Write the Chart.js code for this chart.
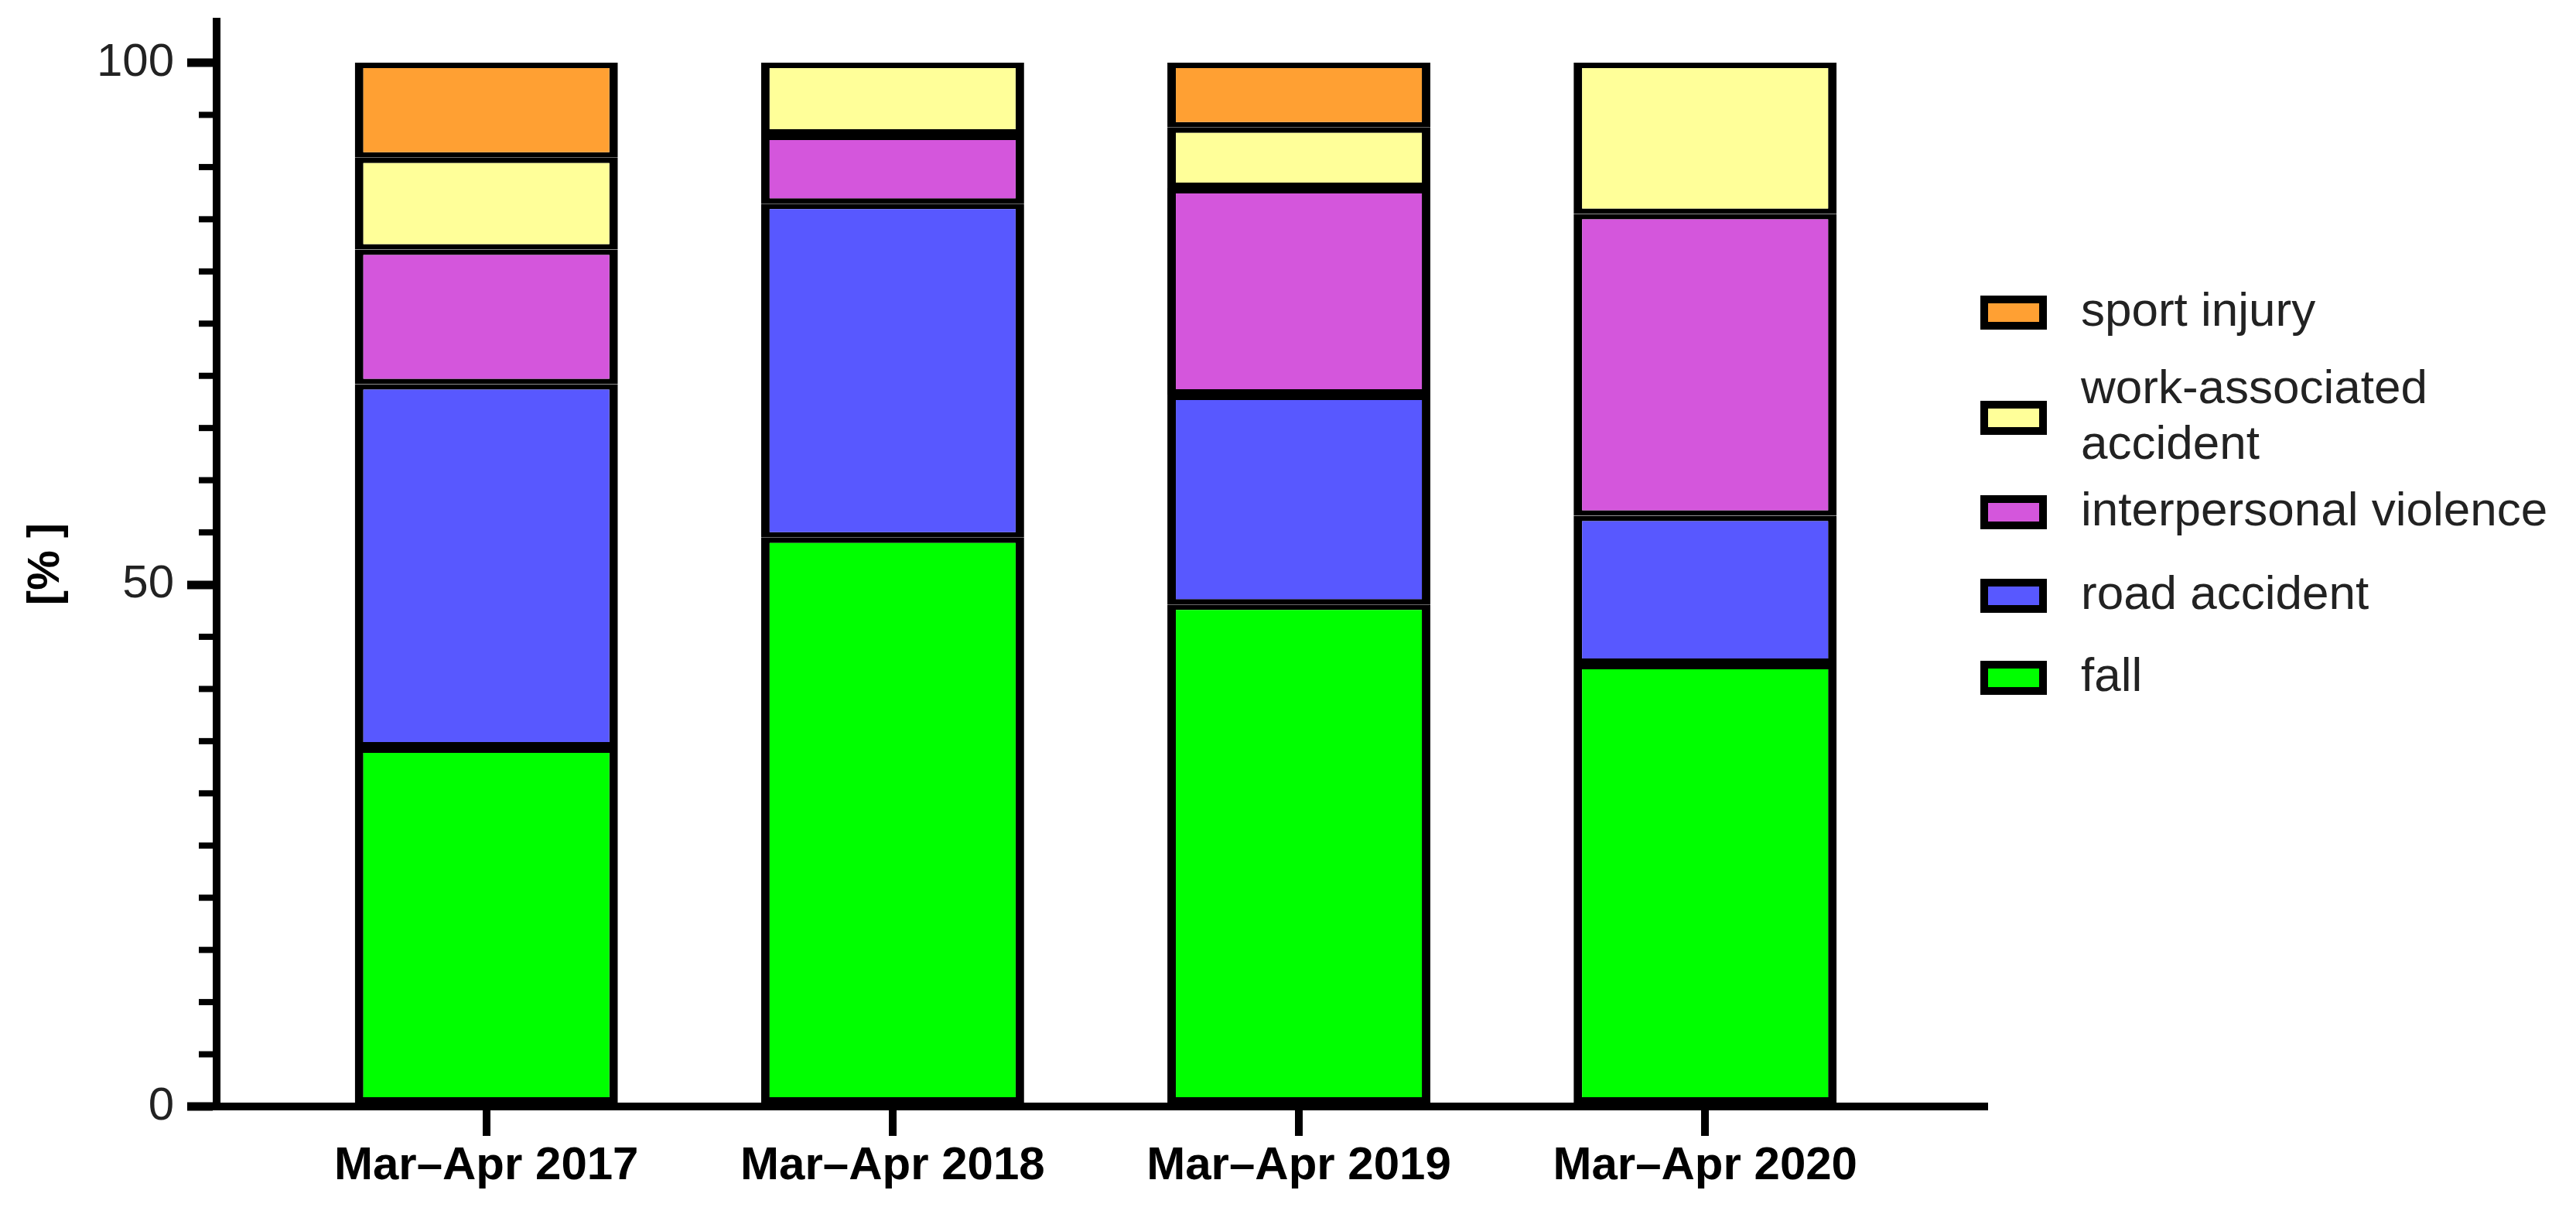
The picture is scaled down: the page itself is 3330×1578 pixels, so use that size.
<!DOCTYPE html>
<html>
<head>
<meta charset="utf-8">
<title>Injury causes, Mar–Apr 2017–2020</title>
<script src="https://cdn.jsdelivr.net/npm/chart.js@4.4.1/dist/chart.umd.min.js"></script>
<style>
  html, body { margin: 0; padding: 0; background: #fff; }
  #wrap { width: 3330px; height: 1578px; }
</style>
</head>
<body>
<div id="wrap"><canvas id="chart" width="3330" height="1578"></canvas></div>
<script>
'use strict';

// --- data (% of cases per period) ---
const categories = ['Mar–Apr 2017', 'Mar–Apr 2018', 'Mar–Apr 2019', 'Mar–Apr 2020'];
const fall      = [34.4, 54.5, 48.1, 42.4];
const road      = [34.8, 32.0, 20.1, 14.2];
const violence  = [12.9,  6.6, 19.8, 28.9];
const work      = [ 8.8,  6.9,  5.8, 14.5];
const sport     = [ 9.1,  0.0,  6.2,  0.0];

const seriesNames  = ['fall', 'road accident', 'interpersonal violence', 'work-associated accident', 'sport injury'];
const seriesValues = [fall, road, violence, work, sport];
const seriesColors = ['#00ff00', '#5858ff', '#d456dc', '#ffff99', '#ffa033'];

const yTickStep = 5;
const yMajorStep = 50;

const FONT = '"Liberation Sans", Arial, Helvetica, sans-serif';
Chart.defaults.font.family = FONT;

// minor tick marks on the y axis (short every 5, long every 50)
const minorTicks = {
  id: 'minorTicks',
  afterDraw(chart) {
    const y = chart.scales.y;
    const ctx = chart.ctx;
    ctx.save();
    ctx.strokeStyle = '#000';
    ctx.lineWidth = 8;
    for (let v = yTickStep; v < 100; v += yTickStep) {
      if (v % yMajorStep === 0) continue;
      const py = y.getPixelForValue(v);
      ctx.beginPath();
      ctx.moveTo(y.right - 4, py);
      ctx.lineTo(y.right - 23, py);
      ctx.stroke();
    }
    ctx.restore();
  },
};

// legend on the right, top item = last stacked series
const sideLegend = {
  id: 'sideLegend',
  afterDraw(chart) {
    const ctx = chart.ctx;
    const centers = [404, 540, 662, 770, 876];
    const swX = 2560, swW = 86, swH = 44, inset = 10;
    const textX = 2690, lineH = 72, maxW = 640;
    ctx.save();
    ctx.font = '62px ' + FONT;
    ctx.textBaseline = 'middle';
    ctx.textAlign = 'left';
    const items = chart.data.datasets.slice().reverse();
    items.forEach((ds, i) => {
      const cy = centers[i];
      ctx.fillStyle = '#000';
      ctx.fillRect(swX, cy - swH / 2, swW, swH);
      ctx.fillStyle = ds.backgroundColor;
      ctx.fillRect(swX + inset, cy - swH / 2 + inset, swW - 2 * inset, swH - 2 * inset);

      // simple word wrap
      const words = ds.label.split(' ');
      const lines = [];
      let cur = '';
      words.forEach(w => {
        const test = cur ? cur + ' ' + w : w;
        if (cur && ctx.measureText(test).width > maxW) { lines.push(cur); cur = w; }
        else cur = test;
      });
      lines.push(cur);
      ctx.fillStyle = '#222';
      const y0 = cy - (lines.length - 1) * lineH / 2;
      lines.forEach((ln, k) => ctx.fillText(ln, textX, y0 + k * lineH));
    });
    ctx.restore();
  },
};

const datasets = seriesNames.map((name, s) => ({
  label: name,
  data: seriesValues[s].map((v, i) => ({ x: i + 1, y: v })),
  backgroundColor: seriesColors[s],
  borderColor: '#000',
  borderWidth: { top: 7, bottom: 7, left: 11, right: 11 },
  borderSkipped: false,
  categoryPercentage: 1,
  barPercentage: 0.6474,
}));

new Chart(document.getElementById('chart'), {
  type: 'bar',
  data: { datasets },
  options: {
    responsive: false,
    animation: false,
    layout: { padding: { left: 0, right: 765, top: 28, bottom: 0 } },
    plugins: {
      legend: { display: false },
      tooltip: { enabled: false },
    },
    scales: {
      x: {
        type: 'linear',
        stacked: true,
        offset: false,
        min: 0.336,
        max: 4.687,
        afterBuildTicks: axis => { axis.ticks = categories.map((c, i) => ({ value: i + 1 })); },
        afterFit: axis => { axis.height = 148; },
        ticks: {
          autoSkip: false,
          maxRotation: 0,
          padding: 3,
          color: '#000',
          font: { size: 60, weight: 'bold' },
          callback: v => categories[v - 1],
        },
        grid: {
          offset: false,
          drawOnChartArea: false,
          tickLength: 38,
          tickWidth: 10,
          tickColor: '#000',
          lineWidth: 10,
        },
        border: { display: true, color: '#000', width: 10 },
      },
      y: {
        stacked: true,
        min: 0,
        max: 103.93,
        afterBuildTicks: axis => {
          const t = [];
          for (let v = 0; v <= 100; v += yTickStep) t.push({ value: v });
          axis.ticks = t;
        },
        afterFit: axis => {
          axis.width = 280;
          axis.paddingTop = 0;
          axis.paddingBottom = 0;
        },
        ticks: {
          padding: 17,
          color: '#222',
          font: { size: 60 },
          callback: v => (v % yMajorStep === 0 ? String(v) : ''),
        },
        grid: {
          drawOnChartArea: false,
          tickLength: 38,
          tickWidth: 11,
          lineWidth: 10,
          tickColor: c => (c.tick && c.tick.value % yMajorStep === 0 ? '#000' : 'rgba(0,0,0,0)'),
        },
        border: { display: true, color: '#000', width: 10 },
        title: {
          display: true,
          text: '[% ]',
          color: '#000',
          font: { size: 58, weight: 'bold' },
          padding: { top: 25, bottom: 0 },
        },
      },
    },
  },
  plugins: [minorTicks, sideLegend],
});
</script>
</body>
</html>
